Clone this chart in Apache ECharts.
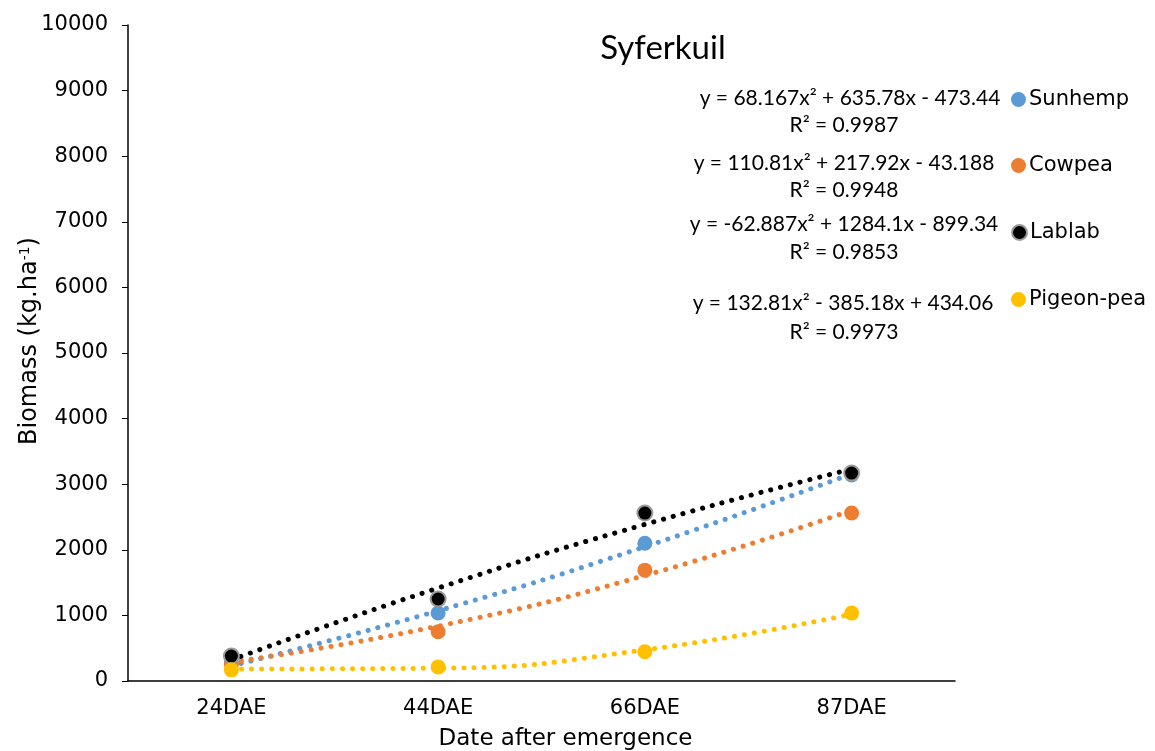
<!DOCTYPE html>
<html><head><meta charset="utf-8">
<script src="https://cdn.jsdelivr.net/npm/echarts@6/dist/echarts.min.js"></script>
<style>html,body{margin:0;padding:0;background:#fff}#c{width:1155px;height:751px}</style>
</head><body><div id="c"></div>
<script>
const categories = ['24DAE','44DAE','66DAE','87DAE'];
const seriesNames = ['Sunhemp','Cowpea','Lablab','Pigeon-pea'];
const sunhemp = [290, 1036, 2100, 3140];
const cowpea = [250, 750, 1690, 2560];
const lablab = [380, 1250, 2560, 3170];
const pigeonpea = [170, 215, 445, 1035];
// trendline values at each category (polynomial fits shown on chart)
const sunhempTrend = [230, 1071, 2047, 3160];
const cowpeaTrend = [286, 836, 1608, 2601];
const lablabTrend = [322, 1417, 2387, 3231];
const pigeonpeaTrend = [182, 195, 474, 1018];
const equations = ['y = 68.167x² + 635.78x - 473.44','y = 110.81x² + 217.92x - 43.188','y = -62.887x² + 1284.1x - 899.34','y = 132.81x² - 385.18x + 434.06'];
const r2Labels = ['R² = 0.9987','R² = 0.9948','R² = 0.9853','R² = 0.9973'];
const yTicks = [0,1000,2000,3000,4000,5000,6000,7000,8000,9000,10000];

const colors = ['#5B9BD5','#ED7D31','#000000','#FFC000'];
const values = [sunhemp, cowpea, lablab, pigeonpea];
const trends = [sunhempTrend, cowpeaTrend, lablabTrend, pigeonpeaTrend];
const legendTops = [84, 150, 217, 284];
const eqX = [850, 844, 844, 843];
const eqY = [98, 163, 224, 303];
const r2Y = [125, 190, 252, 332];

const chart = echarts.init(document.getElementById('c'));
const series = [];
seriesNames.forEach((n,i)=>{
  series.push({
    type:'line', name:n+' trend', data:trends[i], smooth:true, symbol:'none',
    lineStyle:{color:colors[i], width:5, type:[0.1,10], cap:'round'}, z:2, silent:true
  });
});
seriesNames.forEach((n,i)=>{
  series.push({
    type:'scatter', name:n, data:values[i], symbolSize:15,
    itemStyle:{color:colors[i], borderColor: i===2 ? '#9a9a9a' : colors[i], borderWidth: i===2 ? 2 : 0, opacity:1},
    z:5
  });
});
const graphics = [];
equations.forEach((e,i)=>{
  graphics.push({type:'text', x:eqX[i], y:eqY[i], style:{text:e, font:'21px Lato', fill:'#000', align:'center', verticalAlign:'middle'}});
  graphics.push({type:'text', x:844, y:r2Y[i], style:{text:r2Labels[i], font:'21px Lato', fill:'#000', align:'center', verticalAlign:'middle'}});
});
graphics.push({type:'text', x:663, y:48, style:{text:'Syferkuil', font:'33px Lato', fill:'#000', align:'center', verticalAlign:'middle'}});

const F = 'DejaVu Sans';
chart.setOption({
  animation:false,
  color:colors,
  grid:{left:128, right:200, top:25, bottom:70, containLabel:false, outerBoundsMode:'none'},
  legend: seriesNames.map((n,i)=>({
    data:[n], orient:'vertical', left:1006, top:legendTops[i], icon:'circle',
    itemWidth:15, itemHeight:15, itemGap:4,
    textStyle:{fontFamily:F, fontSize:21, color:'#000', padding:[0,0,0,-2]},
    selectedMode:false
  })),
  xAxis:{
    type:'category', data:categories, boundaryGap:true,
    name:'Date after emergence', nameLocation:'middle', nameGap:47,
    nameTextStyle:{fontFamily:F, fontSize:23, color:'#000', padding:[0,0,0,48]},
    axisLine:{lineStyle:{color:'#000', width:1.5}},
    axisTick:{alignWithLabel:true, length:6, lineStyle:{color:'#000'}},
    axisLabel:{fontFamily:F, fontSize:21, color:'#000', margin:17},
    splitLine:{show:false}
  },
  yAxis:{
    type:'value', min:0, max:10000, interval:1000,
    name:'{a|Biomass (kg.ha}{s|-1}{a|)}', nameLocation:'middle', nameGap:86, nameRotate:90, nameMoveOverlap:false,
    nameTextStyle:{padding:[0,0,0,24], rich:{a:{fontFamily:F, fontSize:24, color:'#000'}, s:{fontFamily:F, fontSize:14, color:'#000', verticalAlign:'top', padding:[0,0,10,0]}}},
    axisLine:{show:true, lineStyle:{color:'#000', width:1.5}},
    axisTick:{show:true, length:6, lineStyle:{color:'#000'}},
    axisLabel:{fontFamily:F, fontSize:21, color:'#000', margin:20, formatter:v=>yTicks.includes(v)?String(v):''},
    splitLine:{show:false}
  },
  graphic:graphics,
  series:series
});
</script></body></html>
